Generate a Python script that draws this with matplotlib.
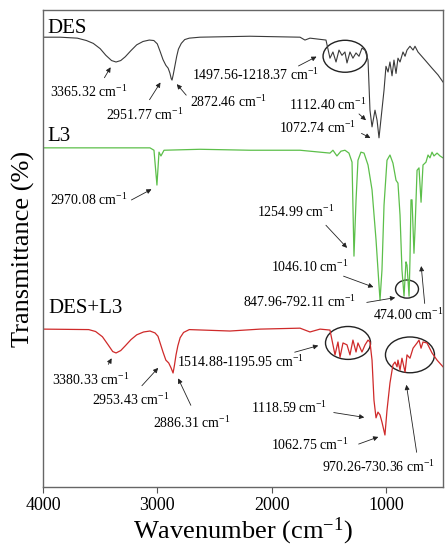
import matplotlib
matplotlib.use("Agg")
import matplotlib.pyplot as plt
from matplotlib.patches import Ellipse

plt.rcParams['font.family'] = ['Liberation Serif', 'DejaVu Serif']
plt.rcParams['mathtext.default'] = 'regular'

# DES spectrum (wavenumber, stacked transmittance)
des_wn = [4000, 3851, 3700, 3620, 3560, 3500, 3450, 3400, 3361, 3320, 3280, 3230, 3180, 3125,
          3070, 3030, 3000, 2975, 2950, 2925, 2905, 2890, 2878, 2871, 2860, 2845, 2830, 2815,
          2790, 2760, 2720, 2626, 2189, 1751, 1708, 1664, 1594, 1524, 1489,
          1463, 1436, 1410, 1384, 1358, 1340, 1314, 1288, 1261, 1235, 1209, 1182, 1156, 1139,
          1121, 1095, 1077, 1060, 1042, 1016, 999, 981, 964, 946, 929, 911, 894, 876, 850, 832,
          815, 789, 762, 745, 719, 657, 596, 544, 500]
des_t = [94.3, 94.3, 94.1, 93.6, 93.0, 91.9, 90.5, 89.4, 89.1, 89.4, 90.2, 91.5, 92.7, 93.4,
         93.7, 93.6, 92.9, 91.3, 89.6, 88.4, 87.8, 86.8, 85.6, 85.3, 86.5, 88.4, 90.3, 91.8,
         93.0, 93.8, 94.1, 94.3, 94.5, 94.3, 93.7, 94.1, 93.9, 93.7, 89.9,
         91.2, 89.1, 91.6, 90.5, 91.2, 88.9, 91.2, 89.9, 91.0, 90.3, 92.0, 91.6, 89.5, 79.0,
         75.5, 79.0, 76.9, 73.2, 77.3, 83.2, 88.2, 87.0, 89.1, 86.2, 89.5, 86.7, 89.9, 89.1,
         91.2, 90.3, 91.6, 92.4, 91.6, 92.4, 91.2, 89.5, 87.8, 86.4, 84.9]

# L3 spectrum
l3_wn = [4000, 3501, 3064, 3029, 3003, 2985, 2968, 2941, 2626, 2189, 1751, 1489, 1463, 1428,
         1393, 1358, 1323, 1296, 1279, 1261, 1244, 1218, 1191, 1156, 1121, 1086, 1060, 1051,
         1034, 1016, 990, 964, 938, 911, 894, 876, 859, 841, 824, 815, 797, 789, 780, 771, 754,
         745, 727, 710, 692, 675, 649, 631, 614, 596, 579, 552, 526, 500]
l3_t = [71.1, 71.1, 71.1, 70.6, 63.3, 70.2, 69.4, 70.6, 70.8, 70.6, 70.6, 70.0, 70.6, 69.4,
        70.4, 70.6, 70.0, 68.1, 48.4, 60.1, 68.5, 70.2, 70.0, 67.5, 62.3, 51.8, 42.3, 39.2,
        45.5, 59.1, 68.5, 69.6, 67.9, 64.3, 63.7, 57.0, 45.5, 40.0, 47.2, 46.5, 40.0, 47.6,
        60.2, 60.2, 49.0, 53.9, 66.4, 66.9, 59.7, 67.5, 68.1, 69.6, 69.0, 70.2, 69.4, 70.0,
        69.4, 69.0]

# DES+L3 spectrum
mix_wn = [4000, 3600, 3540, 3480, 3430, 3390, 3361, 3320, 3280, 3230, 3180, 3120, 3064, 3020,
          2994, 2970, 2950, 2925, 2900, 2880, 2862, 2850, 2836, 2820, 2800, 2770, 2720,
          2364, 2101, 1751, 1664, 1576, 1489, 1445, 1419, 1401, 1375, 1340, 1314,
          1288, 1261, 1244, 1209, 1182, 1156, 1139, 1121, 1104, 1086, 1069, 1051, 1034, 1008,
          990, 964, 938, 920, 902, 894, 876, 859, 832, 815, 789, 762, 727, 710, 692, 675, 640,
          596, 552, 500]
mix_t = [33.1, 33.0, 32.6, 31.5, 29.8, 28.4, 28.1, 28.6, 29.6, 30.9, 31.9, 32.5, 32.7, 32.3,
         31.6, 29.8, 28.3, 26.6, 26.0, 25.0, 23.9, 25.5, 27.7, 29.6, 31.3, 32.4, 33.0,
         32.7, 33.1, 33.3, 32.5, 33.1, 32.9, 27.7, 30.4, 27.2, 30.2, 29.8, 27.7,
         30.8, 28.3, 30.2, 28.3, 29.8, 30.8, 30.4, 26.6, 18.2, 14.5, 15.7, 15.1, 13.6, 10.9,
         16.1, 21.8, 25.6, 26.2, 25.2, 26.6, 24.5, 27.0, 24.1, 27.7, 27.0, 29.1, 30.2, 30.8,
         29.1, 30.4, 30.2, 28.1, 26.6, 25.2]

series_names = ["DES", "L3", "DES+L3"]
xticks = [4000, 3000, 2000, 1000]

# peak labels: text, text anchor, arrow tail, arrow head
peak_labels = [
    ("3365.32 cm$^{-1}$", (3939, 82.8), (3475, 85.3), (3396, 88.5)),
    ("2951.77 cm$^{-1}$", (3449, 78.0), (3081, 80.7), (2959, 85.3)),
    ("2872.46 cm$^{-1}$", (2714, 80.7), (2731, 81.7), (2845, 84.9)),
    ("1497.56-1218.37 cm$^{-1}$", (2696, 86.4), (1786, 88.0), (1585, 90.5)),
    ("1112.40 cm$^{-1}$", (1848, 80.1), (1253, 78.6), (1156, 76.5)),
    ("1072.74 cm$^{-1}$", (1935, 75.2), (1235, 74.4), (1113, 72.9)),
    ("2970.08 cm$^{-1}$", (3939, 60.2), (3248, 59.9), (3029, 62.7)),
    ("1254.99 cm$^{-1}$", (2128, 57.6), (1541, 55.3), (1323, 49.7)),
    ("1046.10 cm$^{-1}$", (2005, 46.1), (1393, 44.4), (1086, 41.7)),
    ("847.96-792.11 cm$^{-1}$", (2250, 38.8), (1191, 38.6), (894, 39.8)),
    ("474.00 cm$^{-1}$", (1113, 36.1), (658, 37.9), (693, 46.9)),
    ("3380.33 cm$^{-1}$", (3921, 22.4), (3440, 25.2), (3388, 27.5)),
    ("2953.43 cm$^{-1}$", (3571, 18.2), (3151, 20.8), (2976, 25.4)),
    ("2886.31 cm$^{-1}$", (3038, 13.4), (2696, 16.6), (2828, 23.3)),
    ("1514.88-1195.95 cm$^{-1}$", (2828, 26.2), (1821, 28.1), (1568, 29.8)),
    ("1118.59 cm$^{-1}$", (2180, 16.6), (1480, 15.7), (1165, 14.5)),
    ("1062.75 cm$^{-1}$", (2005, 8.8), (1261, 8.8), (1043, 10.7)),
    ("970.26-730.36 cm$^{-1}$", (1559, 4.2), (727, 6.7), (824, 22.0)),
]

# circled regions: centre, width (cm-1), height
circles = [((1357, 90.3), 385, 6.7), ((815, 41.5), 201, 3.8),
           ((1331, 30.2), 394, 6.9), ((789, 27.7), 429, 7.5)]

fig = plt.figure(figsize=(4.48, 5.5), dpi=100)
ax = fig.add_axes([43/448, 63/550, 400/448, 477/550])

ax.plot(des_wn, des_t, color='#3a3a3a', lw=0.8)
ax.plot(l3_wn, l3_t, color='#5cbf4a', lw=0.9)
ax.plot(mix_wn, mix_t, color='#cf2a2a', lw=0.9)

ax.text(3965, 96.2, series_names[0], fontsize=15, va='center', ha='left')
ax.text(3965, 73.4, series_names[1], fontsize=15, va='center', ha='left')
ax.text(3956, 37.5, series_names[2], fontsize=15, va='center', ha='left')

for lab, txt, tail, head in peak_labels:
    ax.text(txt[0], txt[1], lab, fontsize=10, va='center', ha='left')
    ax.annotate('', xy=head, xytext=tail,
                arrowprops=dict(arrowstyle='-|>', color='#222222', lw=0.6, mutation_scale=7))

for c, w, h in circles:
    ax.add_patch(Ellipse(c, w, h, fill=False, ec='#222222', lw=1.0))

ax.set_xlim(4000, 500)
ax.set_ylim(0, 100)
ax.set_xticks(xticks)
ax.set_xticklabels([str(t) for t in xticks], fontsize=13)
ax.set_yticks([])
ax.tick_params(axis='x', direction='out', length=4, color='#555555')
for s in ax.spines.values():
    s.set_color('#666666')
    s.set_linewidth(1.0)

ax.set_xlabel('Wavenumber (cm$^{-1}$)', fontsize=19, labelpad=1)
ax.set_ylabel('Transmittance (%)', fontsize=19, labelpad=6)

fig.savefig('out.png', dpi=100)
